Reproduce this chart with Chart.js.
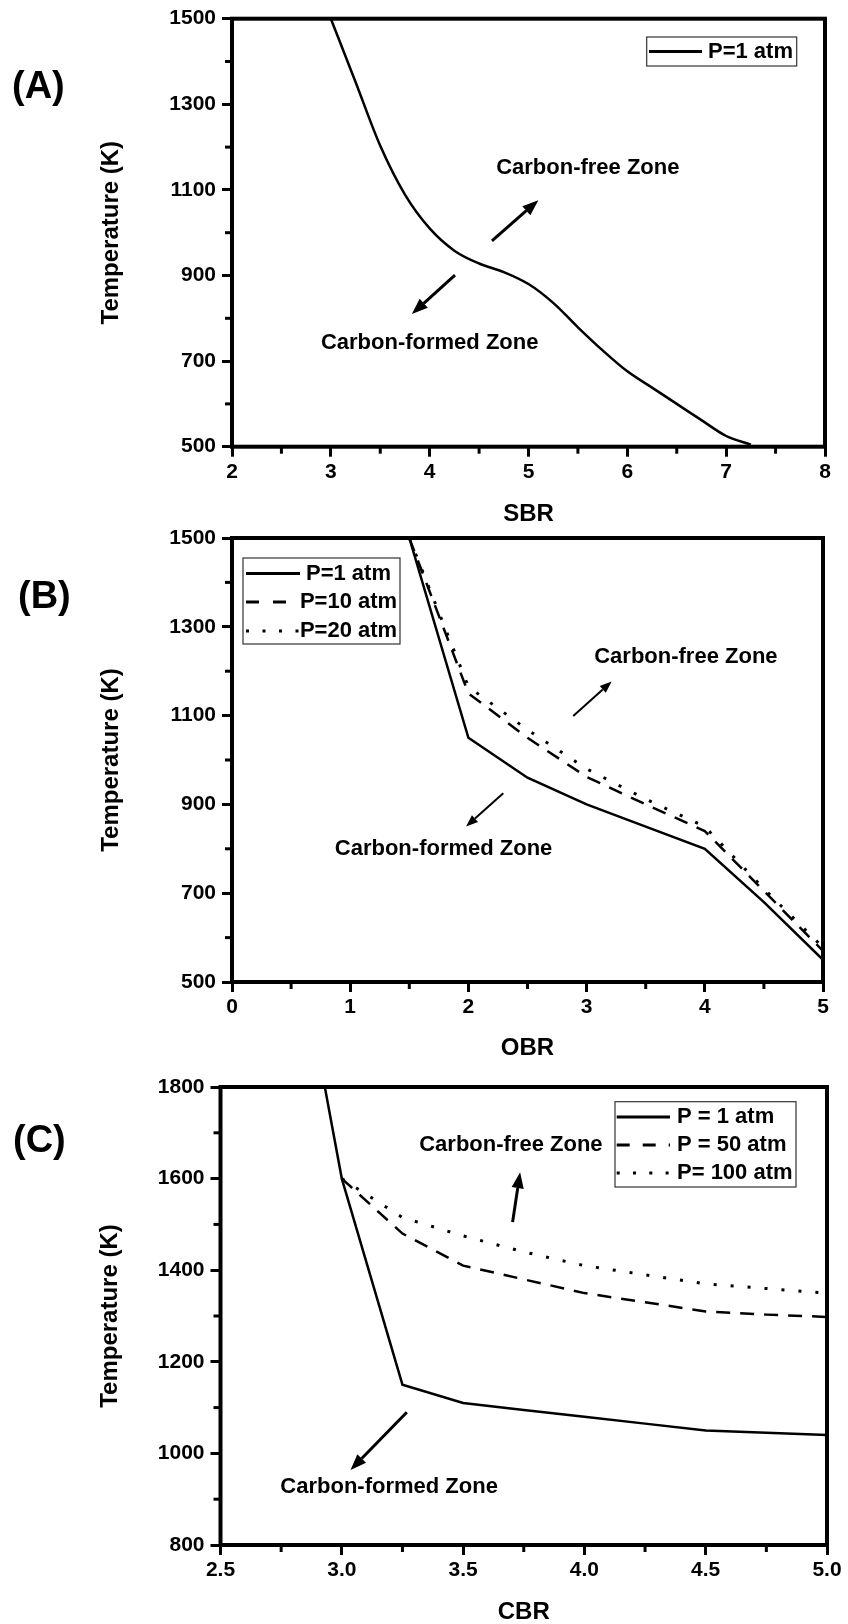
<!DOCTYPE html>
<html>
<head>
<meta charset="utf-8">
<title>Carbon formation boundary vs. feed ratio</title>
<script src="https://cdn.jsdelivr.net/npm/chart.js@4.4.1/dist/chart.umd.min.js"></script>
<style>
  html, body { margin: 0; padding: 0; background: #fff; overflow: hidden; }
  body { width: 848px; height: 1624px; position: relative; }
  canvas { position: absolute; left: 0; display: block; }
  #chartA { top: 0; }
  #chartB { top: 520px; }
  #chartC { top: 1056px; }
</style>
</head>
<body>
<canvas id="chartA" width="848" height="540"></canvas>
<canvas id="chartB" width="848" height="560"></canvas>
<canvas id="chartC" width="848" height="600"></canvas>
<script>
// (A) steam-to-biomass ratio, 1 atm
const sbr = [3.0, 3.25, 3.5, 3.75, 4.0, 4.25, 4.5, 4.75, 5.0, 5.25, 5.5, 5.75, 6.0, 6.25, 6.5, 6.75, 7.0, 7.25];
const tempSbr1 = [1500, 1352, 1203, 1089, 1010, 958, 928, 908, 880, 836, 779, 725, 676, 638, 600, 562, 525, 505];

// (B) oxygen-to-biomass ratio at 1, 10, 20 atm
const obr = [1.5, 2.0, 2.5, 3.0, 3.5, 4.0, 4.5, 5.0];
const tempObr1 = [1500, 1050, 960, 900, 850, 800, 680, 550];
const tempObr10 = [1500, 1150, 1050, 962, 900, 840, 705, 570];
const tempObr20 = [1500, 1165, 1068, 980, 912, 850, 710, 578];

// (C) CO2-to-biomass ratio at 1, 50, 100 atm
const cbr1 = [2.93, 3.0, 3.25, 3.5, 3.75, 4.0, 4.25, 4.5, 4.75, 5.0];
const tempCbr1 = [1800, 1600, 1150, 1110, 1095, 1080, 1065, 1050, 1045, 1040];
const cbr = [3.0, 3.25, 3.5, 3.75, 4.0, 4.25, 4.5, 4.75, 5.0];
const tempCbr50 = [1600, 1480, 1410, 1380, 1350, 1330, 1310, 1303, 1298];
const tempCbr100 = [1600, 1515, 1475, 1440, 1410, 1390, 1370, 1360, 1350];

const FAMILY = '"Liberation Sans", Arial, Helvetica, sans-serif';
const TICK_FONT = { family: FAMILY, size: 21, weight: 'bold', lineHeight: 1.2 };
const TITLE_FONT = { family: FAMILY, size: 24, weight: 'bold', lineHeight: 1.2 };
const NOTE_FONT = `bold 22px ${FAMILY}`;
const TAG_FONT = `bold 38px ${FAMILY}`;

const SOLID = [];
const DASHED = [14, 10];
const DOTTED = [3, 14];

function pts(xs, ys) {
  return xs.map((x, i) => ({ x, y: ys[i] }));
}

function series(label, xs, ys, dash, legendDash, extra = {}) {
  return {
    label,
    data: pts(xs, ys),
    showLine: true,
    pointRadius: 0,
    borderColor: '#000',
    backgroundColor: '#000',
    borderWidth: dash === DOTTED ? 3 : 2.5,
    borderDash: dash,
    legendDash,
    fill: false,
    ...extra,
  };
}

function axis(cfg, isY, box) {
  return {
    type: 'linear',
    position: isY ? 'left' : 'bottom',
    min: cfg.min,
    max: cfg.max,
    border: { display: false },
    grid: { display: true, drawOnChartArea: false, drawTicks: true, tickLength: 10, tickWidth: 3, tickColor: '#000' },
    ticks: {
      stepSize: cfg.step,
      autoSkip: false,
      maxRotation: 0,
      color: '#000',
      font: TICK_FONT,
      padding: isY ? 6 : 3,
      callback: (v) => (cfg.decimals ? Number(v).toFixed(cfg.decimals) : String(v)),
    },
    title: { display: true, text: cfg.title, color: '#000', font: TITLE_FONT, padding: 0 },
    afterFit: (s) => {
      if (isY) {
        s.width = box.yWidth;
        s.paddingTop = 0;
        s.paddingBottom = 0;
      } else {
        s.height = box.xHeight;
        s.paddingLeft = 0;
        s.paddingRight = 0;
      }
    },
  };
}

function drawLine(ctx, x1, y1, x2, y2) {
  ctx.beginPath();
  ctx.moveTo(x1, y1);
  ctx.lineTo(x2, y2);
  ctx.stroke();
}

function drawArrow(ctx, x1, y1, x2, y2, w, head) {
  const ang = Math.atan2(y2 - y1, x2 - x1);
  const bx = x2 - head * Math.cos(ang);
  const by = y2 - head * Math.sin(ang);
  const hw = head * 0.38;
  ctx.lineWidth = w;
  ctx.setLineDash([]);
  drawLine(ctx, x1, y1, bx, by);
  ctx.beginPath();
  ctx.moveTo(x2, y2);
  ctx.lineTo(bx + hw * Math.sin(ang), by - hw * Math.cos(ang));
  ctx.lineTo(bx - hw * Math.sin(ang), by + hw * Math.cos(ang));
  ctx.closePath();
  ctx.fill();
}

// frame, minor ticks, zone notes, legend box and panel tag
function decorPlugin(spec) {
  return {
    id: 'decor',
    afterDatasetsDraw(chart) {
      const { ctx, chartArea: a, scales: { x, y } } = chart;
      ctx.save();
      ctx.strokeStyle = '#000';
      ctx.fillStyle = '#000';
      ctx.setLineDash([]);

      ctx.lineWidth = 3;
      spec.minorX.forEach((v) => {
        const p = x.getPixelForValue(v);
        drawLine(ctx, p, a.bottom, p, a.bottom + 7);
      });
      spec.minorY.forEach((v) => {
        const p = y.getPixelForValue(v);
        drawLine(ctx, a.left - 7, p, a.left, p);
      });

      ctx.lineWidth = 4;
      ctx.strokeRect(a.left, a.top, a.right - a.left, a.bottom - a.top);

      ctx.font = NOTE_FONT;
      ctx.textAlign = 'center';
      ctx.textBaseline = 'middle';
      spec.notes.forEach((n) => ctx.fillText(n.text, x.getPixelForValue(n.x), y.getPixelForValue(n.y)));
      spec.arrows.forEach((ar) =>
        drawArrow(ctx, x.getPixelForValue(ar.from[0]), y.getPixelForValue(ar.from[1]),
          x.getPixelForValue(ar.to[0]), y.getPixelForValue(ar.to[1]), ar.width, ar.head));

      const lg = spec.legend;
      ctx.lineWidth = 1.2;
      ctx.strokeStyle = '#333';
      ctx.strokeRect(lg.left, lg.top, lg.width, lg.height);
      ctx.strokeStyle = '#000';
      ctx.textAlign = lg.textAlign;
      chart.data.datasets.forEach((ds, i) => {
        const ry = lg.rows[i];
        ctx.lineWidth = 3;
        ctx.setLineDash(ds.legendDash);
        drawLine(ctx, lg.sampleFrom, ry, lg.sampleTo, ry);
        ctx.setLineDash([]);
        ctx.fillText(ds.label, lg.textX, ry);
      });

      ctx.font = TAG_FONT;
      ctx.textAlign = 'left';
      ctx.textBaseline = 'alphabetic';
      ctx.fillText(spec.tag.text, spec.tag.x, spec.tag.y);
      ctx.restore();
    },
  };
}

function makePanel(canvasId, datasets, xCfg, yCfg, box, spec) {
  const canvas = document.getElementById(canvasId);
  return new Chart(canvas.getContext('2d'), {
    type: 'scatter',
    data: { datasets },
    options: {
      responsive: false,
      animation: false,
      layout: { padding: box.padding },
      scales: { x: axis(xCfg, false, box), y: axis(yCfg, true, box) },
      plugins: { legend: { display: false }, tooltip: { enabled: false } },
    },
    plugins: [decorPlugin(spec)],
  });
}

// ---- (A) ----
makePanel('chartA',
  [series('P=1 atm', sbr, tempSbr1, SOLID, [], { cubicInterpolationMode: 'monotone' })],
  { min: 2, max: 8, step: 1, title: 'SBR' },
  { min: 500, max: 1500, step: 200, title: 'Temperature (K)' },
  { padding: { left: 96.6, top: 18.7, right: 23, bottom: 11.1 }, yWidth: 135.4, xHeight: 82.2 },
  {
    minorX: [2.5, 3.5, 4.5, 5.5, 6.5, 7.5],
    minorY: [600, 800, 1000, 1200, 1400],
    notes: [
      { text: 'Carbon-free Zone', x: 5.6, y: 1151 },
      { text: 'Carbon-formed Zone', x: 4.0, y: 742 },
    ],
    arrows: [
      { from: [4.63, 981], to: [5.1, 1076], width: 3, head: 16 },
      { from: [4.256, 901], to: [3.82, 810], width: 3, head: 16 },
    ],
    legend: { left: 646.7, top: 37, width: 150, height: 29, rows: [51.5], sampleFrom: 649, sampleTo: 702, textX: 708, textAlign: 'left' },
    tag: { text: '(A)', x: 12, y: 98 },
  });

// ---- (B) ----
makePanel('chartB',
  [
    series('P=1 atm', obr, tempObr1, SOLID, []),
    series('P=10 atm', obr, tempObr10, DASHED, [13, 14]),
    series('P=20 atm', obr, tempObr20, DOTTED, [3, 13.5]),
  ],
  { min: 0, max: 5, step: 1, title: 'OBR' },
  { min: 500, max: 1500, step: 200, title: 'Temperature (K)' },
  { padding: { left: 96.6, top: 18, right: 25, bottom: 17 }, yWidth: 135.4, xHeight: 81 },
  {
    minorX: [0.5, 1.5, 2.5, 3.5, 4.5],
    minorY: [600, 800, 1000, 1200, 1400],
    notes: [
      { text: 'Carbon-free Zone', x: 3.84, y: 1231 },
      { text: 'Carbon-formed Zone', x: 1.79, y: 800 },
    ],
    arrows: [
      { from: [2.887, 1099], to: [3.212, 1177], width: 2, head: 12 },
      { from: [2.295, 925], to: [1.98, 850], width: 2, head: 12 },
    ],
    legend: { left: 243, top: 38, width: 157, height: 86, rows: [53.6, 82, 111], sampleFrom: 246, sampleTo: 300, textX: 348.5, textAlign: 'center' },
    tag: { text: '(B)', x: 18, y: 88 },
  });

// ---- (C) ----
makePanel('chartC',
  [
    series('P = 1 atm', cbr1, tempCbr1, SOLID, []),
    series('P = 50 atm', cbr, tempCbr50, DASHED, [13, 13]),
    series('P= 100 atm', cbr, tempCbr100, DOTTED, [3, 13.3]),
  ],
  { min: 2.5, max: 5, step: 0.5, decimals: 1, title: 'CBR' },
  { min: 800, max: 1800, step: 200, title: 'Temperature (K)' },
  { padding: { left: 96.1, top: 31, right: 21, bottom: 29.1 }, yWidth: 124.4, xHeight: 81.9 },
  {
    minorX: [2.75, 3.25, 3.75, 4.25, 4.75],
    minorY: [900, 1100, 1300, 1500, 1700],
    notes: [
      { text: 'Carbon-free Zone', x: 3.697, y: 1673 },
      { text: 'Carbon-formed Zone', x: 3.195, y: 927 },
    ],
    arrows: [
      { from: [3.704, 1505], to: [3.735, 1614], width: 3, head: 16 },
      { from: [3.268, 1090], to: [3.036, 964], width: 3, head: 16 },
    ],
    legend: { left: 615, top: 45.7, width: 181, height: 85.3, rows: [61, 89, 117], sampleFrom: 616.7, sampleTo: 670, textX: 677, textAlign: 'left' },
    tag: { text: '(C)', x: 13, y: 96.3 },
  });
</script>
</body>
</html>
